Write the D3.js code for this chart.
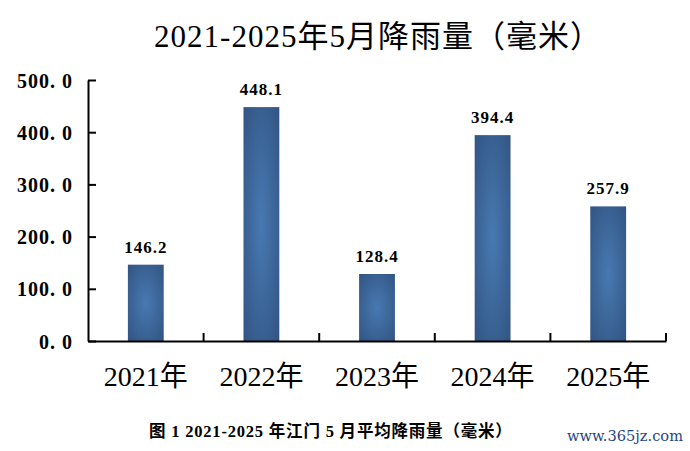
<!DOCTYPE html>
<html>
<head>
<meta charset="utf-8">
<script src="https://cdnjs.cloudflare.com/ajax/libs/d3/7.8.5/d3.min.js"></script>
<style>
  body { margin: 0; background: #fff; }
  svg { display: block; }
</style>
</head>
<body>
<svg id="chart" width="690" height="451"></svg>
<script>
// data
var years = ["2021年", "2022年", "2023年", "2024年", "2025年"]
var rain = [146.2, 448.1, 128.4, 394.4, 257.9]
var yTicks = [0, 100, 200, 300, 400, 500]
var titleText = "2021-2025年5月降雨量（毫米）"
var captionText = "图 1 2021-2025 年江门 5 月平均降雨量（毫米）"
var siteText = "www.365jz.com"

var serif = "'Liberation Serif', 'DejaVu Serif', 'Noto Sans CJK SC', serif"

var svg = d3.select("#chart")
var plotLeft = 88, plotRight = 666, plotTop = 80, plotBottom = 341

var x = d3.scaleBand().domain(years).range([plotLeft, plotRight]).paddingInner(0).paddingOuter(0)
var y = d3.scaleLinear().domain([0, 500]).range([plotBottom, plotTop])

// gradient for the bars, lighter in the middle
var defs = svg.append("defs")
var grad = defs.append("radialGradient")
  .attr("id", "barGrad")
  .attr("cx", "50%").attr("cy", "50%").attr("r", "75%")
grad.append("stop").attr("offset", "0%").attr("stop-color", "#4879b2")
grad.append("stop").attr("offset", "100%").attr("stop-color", "#30527f")

// title
svg.append("text")
  .attr("x", 378).attr("y", 47)
  .attr("text-anchor", "middle")
  .style("font-family", serif)
  .style("font-size", "31px")
  .style("letter-spacing", "1px")
  .style("fill", "#000")
  .text(titleText)

// bars
var barW = x.bandwidth() * 0.31
svg.selectAll("rect.bar")
  .data(rain)
  .enter().append("rect")
  .attr("class", "bar")
  .attr("x", function(d, i) { return x(years[i]) + x.bandwidth() / 2 - barW / 2 })
  .attr("y", function(d) { return y(d) })
  .attr("width", barW)
  .attr("height", function(d) { return y(0) - y(d) })
  .attr("fill", "url(#barGrad)")

// value labels
svg.selectAll("text.val")
  .data(rain)
  .enter().append("text")
  .attr("class", "val")
  .attr("x", function(d, i) { return x(years[i]) + x.bandwidth() / 2 })
  .attr("y", function(d) { return y(d) - 12 })
  .attr("text-anchor", "middle")
  .style("font-family", serif)
  .style("font-weight", "bold")
  .style("font-size", "17px")
  .style("letter-spacing", "1px")
  .text(function(d) { return d.toFixed(1) })

// y axis, ticks pointing inside
var yAxis = d3.axisLeft(y)
  .tickValues(yTicks)
  .tickSizeInner(-8)
  .tickSizeOuter(0)
  .tickPadding(16)
  .tickFormat(function(d) { return d.toFixed(1).replace(".", ". ") })

var gy = svg.append("g")
  .attr("transform", "translate(" + plotLeft + ",0)")
  .call(yAxis)
gy.select(".domain").attr("stroke", "#000").attr("stroke-width", 2)
gy.selectAll(".tick line").attr("stroke", "#000").attr("stroke-width", 2)
gy.selectAll(".tick text")
  .style("font-family", serif)
  .style("font-weight", "bold")
  .style("font-size", "20px")
  .style("letter-spacing", "1px")
  .attr("fill", "#000")
  .attr("dy", "0.35em")
  .attr("x", -15)

// x axis line and category separators
var gx = svg.append("g")
  .attr("transform", "translate(0," + plotBottom + ")")
  .call(d3.axisBottom(x).tickSize(0).tickFormat(""))
gx.select(".domain").attr("stroke", "#000").attr("stroke-width", 2)

var bounds = years.map(function(d) { return x(d) }).concat([x(years[years.length - 1]) + x.bandwidth()])
gx.selectAll("line.sep")
  .data(bounds.slice(1))
  .enter().append("line")
  .attr("class", "sep")
  .attr("x1", function(d) { return d }).attr("x2", function(d) { return d })
  .attr("y1", 0).attr("y2", -8)
  .attr("stroke", "#000").attr("stroke-width", 2)

// x labels
svg.selectAll("text.cat")
  .data(years)
  .enter().append("text")
  .attr("class", "cat")
  .attr("x", function(d) { return x(d) + x.bandwidth() / 2 })
  .attr("y", 386)
  .attr("text-anchor", "middle")
  .style("font-family", serif)
  .style("font-size", "28px")
  .text(function(d) { return d })

// caption
svg.append("text")
  .attr("x", 149).attr("y", 437)
  .style("font-family", serif)
  .style("font-weight", "bold")
  .style("font-size", "16.5px")
  .style("letter-spacing", "0.8px")
  .text(captionText)

// site mark
svg.append("text")
  .attr("x", 567).attr("y", 441)
  .attr("textLength", 116)
  .attr("lengthAdjust", "spacingAndGlyphs")
  .style("font-family", "'DejaVu Serif', serif")
  .style("font-size", "15px")
  .style("fill", "#1f4585")
  .text(siteText)
</script>
</body>
</html>
